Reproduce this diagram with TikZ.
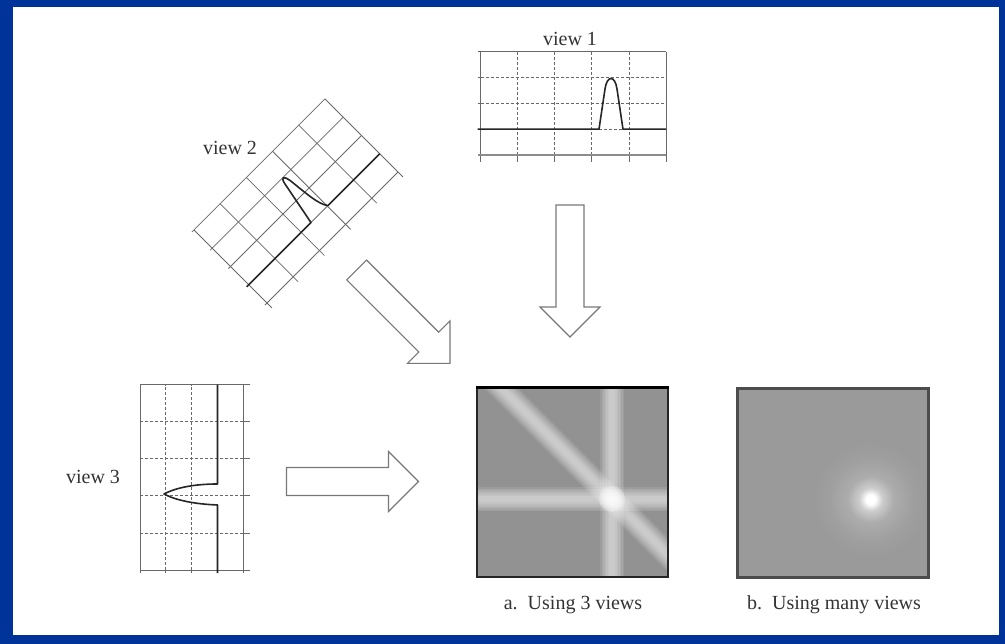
\documentclass[tikz,border=0pt]{standalone}
\usepackage{fontspec}
\setmainfont{Liberation Serif}
\definecolor{frameblue}{RGB}{0,51,153}
\definecolor{gridgray}{RGB}{105,105,105}
\definecolor{sqafill}{RGB}{146,146,146}
\definecolor{sqbfill}{RGB}{154,154,154}
\definecolor{arrowgray}{RGB}{120,120,120}
\pgfdeclareradialshading{glowb}{\pgfpoint{0bp}{0bp}}{color(0bp)=(white); color(2bp)=(white); color(5bp)=(sqbfill!50!white); color(10bp)=(sqbfill!82!white); color(18bp)=(sqbfill!95!white); color(25bp)=(sqbfill); color(50bp)=(sqbfill)}
\tikzset{
  gridline/.style={draw=gridgray, line width=0.8pt},
  griddash/.style={gridline, dash pattern=on 3pt off 2pt},
  signal/.style={draw=black!85, line width=1.6pt, line join=round},
  thickgray/.style={draw=black!45, line width=2.6pt},
  blockarrow/.style={draw=arrowgray, line width=1.1pt, fill=white, line join=miter},
  lbl/.style={inner sep=0pt, text=black!80, font=\fontsize{20}{24}\selectfont},
}
% #1 = style of the inner grid lines, #2 = style of the bottom line
\newcommand\DrawViewGrid[2]{%
  \draw[gridline] (0,7) -- (0,-103.3);
  \foreach \c in {37.06,74.12,111.18,148.24}{
    \draw[#1] (\c,0) -- (\c,-103.3);
    \draw[gridline] (\c,0) -- (\c,7);}
  \draw[gridline] (185.3,7) -- (185.3,-103.3);
  \draw[gridline] (-3,-103.3) -- (185.3,-103.3);
  \foreach \r in {-77.5,-51.65}{
    \draw[#1] (0,\r) -- (185.3,\r);
    \draw[gridline] (-3,\r) -- (0,\r);}
  \draw[#2] (-3,0) -- (185.3,0);
}
\newcommand\DrawBlockArrow{%
  \draw[blockarrow] (0,-14) -- (102,-14) -- (102,-30) -- (132,0)
    -- (102,30) -- (102,14) -- (0,14) -- cycle;}
\begin{document}
\begin{tikzpicture}[x=1pt,y=-1pt]
\useasboundingbox (0,0) rectangle (1005,644);
\fill[frameblue] (0,0) rectangle (1005,644);
\fill[white] (13,7.5) rectangle (998.5,634.5);

% view 1
\begin{scope}[shift={(480.7,155)}]
  \DrawViewGrid{griddash}{thickgray}
  \draw[griddash] (118.3,-25.8) -- (142.3,-25.8);
  \draw[signal] (-3,-25.8) -- (118.3,-25.8) -- (124.3,-66)
     .. controls (126.3,-80) and (134.3,-80) .. (136.3,-66)
     -- (142.3,-25.8) -- (185.3,-25.8);
\end{scope}
\node[lbl] (v1) at (570,39) {view 1};

% view 2 (rotated)
\begin{scope}[shift={(267,303)}, rotate=45]
  \DrawViewGrid{gridline}{gridline}
  \draw[gridline] (88,-25.8) -- (112,-25.8);
  \draw[signal] (-3,-25.8) -- (88,-25.8) -- (97,-72)
     .. controls (98.5,-79) and (101.5,-79) .. (103,-70)
     .. controls (105,-52) and (106,-33) .. (112,-25.8) -- (185.3,-25.8);
\end{scope}
\node[lbl] (v2) at (230,148) {view 2};

% view 3 (rotated)
\begin{scope}[shift={(243.3,570)}, rotate=90]
  \DrawViewGrid{griddash}{gridline}
  \draw[signal] (-3,-25.8) -- (65,-25.8)
     .. controls (66,-50) and (70,-68) .. (76,-79.3)
     .. controls (82,-68) and (86,-50) .. (86,-25.8) -- (185.3,-25.8);
\end{scope}
\node[lbl] (v3) at (93,477) {view 3};

% block arrows
\begin{scope}[shift={(570,205)}, rotate=-90]\DrawBlockArrow\end{scope}
\begin{scope}[shift={(356.7,270)}, rotate=-45]\DrawBlockArrow\end{scope}
\begin{scope}[shift={(286.5,481.5)}]\DrawBlockArrow\end{scope}

% square a
\fill[sqafill] (477.3,387.3) rectangle (668.3,577.3);
\begin{scope}
  \clip (477.3,387.3) rectangle (668.3,577.3);
  \foreach \w in {24,21,18,15,12,9,6}{
    \draw[white, opacity=0.1, line width=\w pt] (470,499) -- (675,499);
    \draw[white, opacity=0.1, line width=\w pt] (612,380) -- (612,585);
    \draw[white, opacity=0.1, line width=\w pt] (380,267) -- (700,587);
  }
  \foreach \r in {13,10,7,4}{
    \fill[white, opacity=0.25] (612,499) circle (\r);
  }
\end{scope}
\draw[black!85, line width=2.2pt] (477.3,387.3) rectangle (668.3,577.3);
\draw[black, line width=3pt] (476.2,387.3) -- (669.4,387.3);
\node[lbl] (capa) at (573,605) {a.\ \ Using 3 views};

% square b
\fill[sqbfill] (737.3,388.3) rectangle (928.3,577.3);
\begin{scope}
  \clip (737.3,388.3) rectangle (928.3,577.3);
  \shade[shading=glowb] (870.7,499.3) circle (58);
\end{scope}
\draw[black!70, line width=3pt] (737.3,388.3) rectangle (928.3,577.3);
\node[lbl] (capb) at (834,605) {b.\ \ Using many views};
\end{tikzpicture}
\end{document}
